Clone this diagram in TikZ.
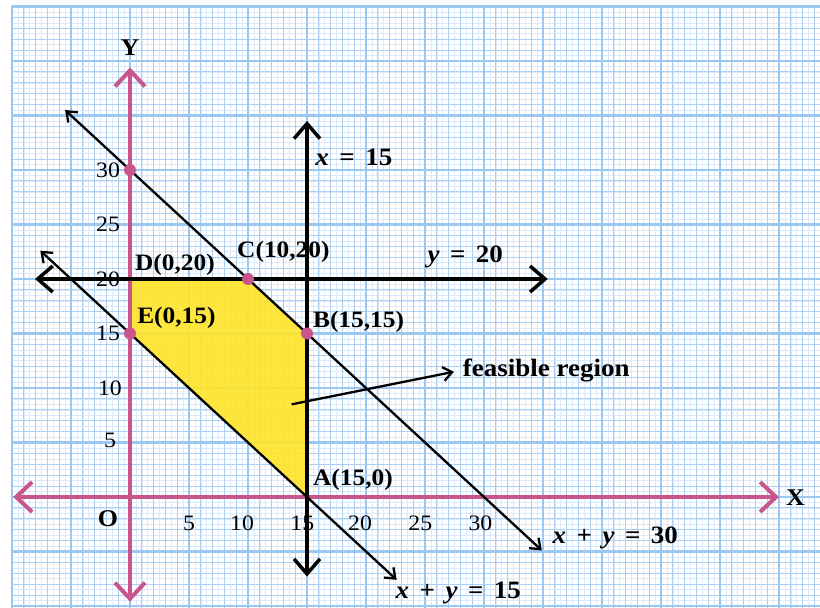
\documentclass[tikz,border=0pt]{standalone}
\usepackage{fontspec}
\setmainfont{Liberation Serif}[FakeStretch=1.08]
\usetikzlibrary{arrows.meta}
\definecolor{gthick}{RGB}{155,200,240}
\definecolor{gmed}{RGB}{172,208,242}
\definecolor{gfine}{RGB}{222,234,249}
\definecolor{pinkax}{RGB}{200,86,140}
\definecolor{feas}{RGB}{255,228,40}
\newcommand\mysp{\hspace{0.42em}}
\begin{document}
\begin{tikzpicture}[x=11.8pt,y=10.9pt,
  lbl/.style={font=\fontsize{25}{28}\selectfont\bfseries, inner sep=0pt, anchor=west},
  ptlbl/.style={font=\fontsize{23.5}{26}\selectfont\bfseries, inner sep=0pt, anchor=west},
  ticklbl/.style={font=\fontsize{22}{24}\selectfont, inner sep=0pt},
  axislbl/.style={font=\fontsize{24}{26}\selectfont\bfseries, inner sep=0pt},
  axisline/.style={draw=pinkax, line width=4pt, {Straight Barb[length=16pt,width=30pt]}-{Straight Barb[length=16pt,width=30pt]}},
  bigline/.style={draw=black, line width=3.5pt, {Straight Barb[length=15pt,width=26pt]}-{Straight Barb[length=15pt,width=26pt]}},
  thinline/.style={draw=black, line width=2.3pt, {Straight Barb[length=9pt,width=14pt]}-{Straight Barb[length=9pt,width=14pt]}},
  ptdot/.style={circle, fill=pinkax, inner sep=0pt, minimum size=12pt}]
\useasboundingbox (-11.017,-10.183) rectangle (58.475,45.596);
\fill[white] (-11.017,-10.183) rectangle (58.475,45.596);
% graph paper
\draw[gfine, line width=0.5pt, step=0.5] (-10,-10.183) grid (58.475,45);
\draw[gmed, line width=1.1pt, step=1] (-10,-10.183) grid (58.475,45);
\draw[gthick, line width=2.6pt, step=5] (-10,-10.183) grid (58.475,45);
% key points
\coordinate (O) at (0,0);
\coordinate (P30) at (0,30);
\coordinate (D) at (0,20);
\coordinate (C) at (10,20);
\coordinate (E) at (0,15);
\coordinate (B) at (15,15);
\coordinate (A) at (15,0);
% feasible region
\fill[feas, fill opacity=0.9] (E) -- (D) -- (C) -- (B) -- (A) -- cycle;
% end points of lines
\coordinate (xl) at (-9.9,0);
\coordinate (xr) at (55,0);
\coordinate (yb) at (0,-9.6);
\coordinate (yt) at (0,39.4);
\coordinate (x15t) at (15,34.5);
\coordinate (x15b) at (15,-7.3);
\coordinate (y20l) at (-8.05,20);
\coordinate (y20r) at (35.4,20);
\coordinate (l30a) at (-5.5,35.5);
\coordinate (l30b) at (34.9,-4.9);
\coordinate (l15a) at (-7.6,22.6);
\coordinate (l15b) at (22.6,-7.6);
\coordinate (fa) at (13.7,8.5);
% tick labels
\node[ticklbl] (t30) at (-1.86,30) {30};
\node[ticklbl] (t25) at (-1.86,25) {25};
\node[ticklbl] (t20) at (-1.86,20) {20};
\node[ticklbl] (t15) at (-1.86,15) {15};
\node[ticklbl] (t10) at (-1.7,10) {10};
\node[ticklbl] (t5) at (-1.7,5.2) {5};
\node[ticklbl] (s5) at (5,-2.4) {5};
\node[ticklbl] (s10) at (9.5,-2.4) {10};
\node[ticklbl] (s15) at (14.6,-2.4) {15};
\node[ticklbl] (s20) at (19.5,-2.4) {20};
\node[ticklbl] (s25) at (24.6,-2.4) {25};
\node[ticklbl] (s30) at (29.7,-2.4) {30};
\node[axislbl] (lO) at (-1.86,-1.95) {O};
\node[axislbl] (lX) at (56.4,-0.1) {X};
\node[axislbl] (lY) at (0,41.2) {Y};
% point and line labels
\node[ptlbl] (lC) at (9.07,22.5) {C(10,20)};
\node[ptlbl] (lD) at (0.42,21.3) {D(0,20)};
\node[ptlbl] (lE) at (0.6,16.4) {E(0,15)};
\node[ptlbl] (lB) at (15.5,16.05) {B(15,15)};
\node[ptlbl] (lA) at (15.5,1.56) {A(15,0)};
\node[lbl] (fr) at (28.2,11.65) {feasible region};
\node[lbl] (ex15) at (15.7,31.2) {{\itshape x}\mysp=\mysp15};
\node[lbl] (ey20) at (25.2,22.0) {{\itshape y}\mysp=\mysp20};
\node[lbl] (e30) at (35.8,-3.76) {{\itshape x}\mysp+\mysp{\itshape y}\mysp=\mysp30};
\node[lbl] (e15) at (22.5,-8.8) {{\itshape x}\mysp+\mysp{\itshape y}\mysp=\mysp15};
% axes
\draw[axisline] (xl) -- (xr);
\draw[axisline] (yb) -- (yt);
% constraint lines
\draw[bigline] (x15b) -- (x15t);
\draw[bigline] (y20l) -- (y20r);
\draw[thinline] (l30a) -- (l30b);
\draw[thinline] (l15a) -- (l15b);
\draw[draw=black, line width=2.3pt, -{Straight Barb[length=9pt,width=14pt]}, shorten >=9pt] (fa) -- (fr.west);
% points
\node[ptdot] (dP30) at (P30) {};
\node[ptdot] (dC) at (C) {};
\node[ptdot] (dE) at (E) {};
\node[ptdot] (dB) at (B) {};
\end{tikzpicture}
\end{document}
